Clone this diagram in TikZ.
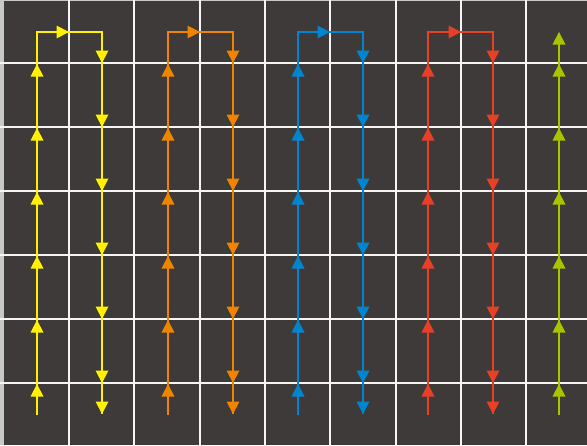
\documentclass[tikz,border=0pt]{standalone}
\definecolor{bg}{RGB}{62,58,57}
\definecolor{edgegray}{RGB}{200,200,200}
\definecolor{cyel}{RGB}{255,241,0}
\definecolor{cora}{RGB}{240,131,0}
\definecolor{cblu}{RGB}{0,134,209}
\definecolor{cred}{RGB}{232,64,37}
\definecolor{cgrn}{RGB}{170,196,0}
\tikzset{
  gridline/.style={draw=white!92!gray, line width=2pt},
  flow/.style={line width=2pt},
  uptri/.pic={\fill (0,0) -- (-6.5,12.5) -- (6.5,12.5) -- cycle;},
  dntri/.pic={\fill (0,0) -- (-6.5,-12.5) -- (6.5,-12.5) -- cycle;},
  rttri/.pic={\fill (0,0) -- (-12.5,-6.5) -- (-12.5,6.5) -- cycle;}
}
\begin{document}
\begin{tikzpicture}[x=1pt,y=-1pt]
\useasboundingbox (0,0) rectangle (587,445);
\fill[bg] (0,0) rectangle (587,445);
\fill[edgegray] (0,0) rectangle (3.5,445);
\draw[edgegray, line width=1pt] (0,0.5) -- (587,0.5);
\foreach \x in {69,134,200,265,330,396,461,526} \draw[gridline] (\x,0) -- (\x,445);
\foreach \j in {0,...,5} \draw[gridline] (0,{63+64*\j}) -- (587,{63+64*\j});
\foreach \p/\c/\xu/\xd/\xm in {0/cyel/37/102/69,1/cora/168/233/200,2/cblu/298/363/330,3/cred/428/493/461}{
  \begin{scope}[color=\c]
    \coordinate (s\p) at (\xu,415);
    \coordinate (t\p) at (\xu,32);
    \coordinate (u\p) at (\xd,32);
    \coordinate (e\p) at (\xd,414);
    \draw[flow] (s\p) -- (t\p) -- (u\p) -- (e\p);
    \foreach \j in {0,...,5}{
      \pic at (\xu,{64+64*\j}) {uptri};
      \pic at (\xd,{63+64*\j}) {dntri};
    }
    \pic at (e\p) {dntri};
    \pic at (\xm,32) {rttri};
  \end{scope}
}
\begin{scope}[color=cgrn]
  \coordinate (gs) at (559,415);
  \coordinate (gt) at (559,34);
  \draw[flow] (gs) -- (gt);
  \foreach \j in {0,...,5}{ \pic at (559,{64+64*\j}) {uptri}; }
  \pic at (559,32) {uptri};
\end{scope}
\end{tikzpicture}
\end{document}
